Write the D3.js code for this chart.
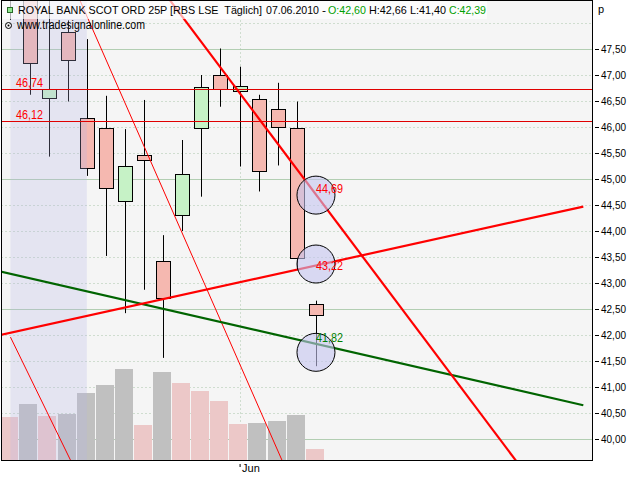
<!DOCTYPE html>
<html>
<head>
<meta charset="utf-8">
<script src="https://cdn.jsdelivr.net/npm/d3@7"></script>
<style>
  html, body { margin: 0; padding: 0; background: #ffffff; }
  svg { display: block; }
  text { font-family: "Liberation Sans", Arial, sans-serif; white-space: pre; }
</style>
</head>
<body>
<svg id="chart" width="640" height="480"></svg>
<script>
// ---------- data ----------
const dates   = ["13.05.2010","14.05.2010","17.05.2010","18.05.2010","19.05.2010","20.05.2010","21.05.2010","24.05.2010","25.05.2010","26.05.2010","27.05.2010","28.05.2010","01.06.2010","02.06.2010","03.06.2010","04.06.2010","07.06.2010"];
const opens   = [48.90, 48.60, 46.57, 47.83, 46.17, 45.98, 44.58, 45.46, 43.42, 44.30, 45.97, 47.00, 46.69, 46.53, 46.34, 45.99, 42.60];
const highs   = [49.10, 48.70, 48.50, 48.05, 47.69, 46.60, 45.96, 46.52, 43.92, 45.75, 47.00, 47.51, 47.16, 46.62, 46.85, 46.49, 42.66];
const lows    = [48.06, 46.62, 45.43, 46.49, 45.06, 43.52, 42.42, 42.87, 41.56, 44.00, 44.66, 46.39, 45.24, 44.76, 45.26, 43.29, 41.40];
const closes  = [48.50, 47.24, 46.74, 47.30, 45.21, 44.82, 45.25, 45.36, 42.71, 45.09, 46.76, 46.73, 46.78, 45.15, 45.99, 43.49, 42.39];
const volumes = [215, 280, 220, 230, 335, 375, 455, 175, 440, 385, 345, 295, 180, 185, 195, 225, 55]; // millions

const priceTicks = [40.0, 40.5, 41.0, 41.5, 42.0, 42.5, 43.0, 43.5, 44.0, 44.5, 45.0, 45.5, 46.0, 46.5, 47.0, 47.5, 48.0];
const majorTicks = [40.0, 42.5, 45.0, 47.5];
const monthTicks = [12];
const monthLabels = ["Jun"];

const levelValues = [46.74, 46.12];
const levelLabels = ["46,74", "46,12"];

// trend lines as [slot, price] pairs
const trendThickRed = [[8, 48.61], [26.5, 39.57]];
const trendRedUp    = [[-1, 41.96], [30, 44.47]];
const trendGreen    = [[-1, 43.26], [30, 40.65]];
const trendThinUp   = [[3, 48.97], [15, 38.94]];
const trendThinLow  = [[0, 41.96], [4, 38.95]];

const markerSlot   = 16;
const markerValues = [44.69, 43.365, 41.667];
const markerLabels = ["44,69", "43,22", "41,82"];
const markerLabelValues = [44.69, 43.22, 41.82];

const shadeSlots = [0, 4];

const titleTexts  = ["ROYAL BANK SCOT ORD 25P [RBS LSE  Täglich]", "07.06.2010", "-", "O:42,60", "H:42,66 L:41,40", "C:42,39"];
const titleColors = ["#000000", "#000000", "#000000", "#00a000", "#000000", "#00a000"];
const subtitle = "www.tradesignalonline.com";

// ---------- layout ----------
const titleX   = [18, 266, 322, 328, 369, 449];
const titleLen = [244, 53, 4, 38, 77, 37];

// ---------- scales ----------
const svg = d3.select("#chart");
const L = 1.5, R = 592.5, T = 0.5, B = 460.5;
const x = d3.scaleLinear().domain([0, 30]).range([10.45, 583.3]);
const y = d3.scaleLinear().domain([40, 47.5]).range([439, 49]);
const vol = d3.scaleLinear().domain([0, 500]).range([460, 360]);
const fmt = v => d3.format(".2f")(v).replace(".", ",");

// background
svg.append("rect").attr("x", 0).attr("y", 0).attr("width", 640).attr("height", 480).attr("fill", "#fff");
svg.append("rect").attr("x", L).attr("y", T).attr("width", R - L).attr("height", B - T).attr("fill", "#f5f5f5");

svg.append("clipPath").attr("id", "plotclip").append("rect")
  .attr("x", L + 0.5).attr("y", T + 0.5).attr("width", R - L - 1).attr("height", B - T - 1);
const g = svg.append("g").attr("clip-path", "url(#plotclip)");

// grid
g.selectAll("line.hgrid").data(priceTicks).enter().append("line")
  .attr("x1", L).attr("x2", R)
  .attr("y1", d => Math.round(y(d)) + 0.5).attr("y2", d => Math.round(y(d)) + 0.5)
  .attr("stroke", d => majorTicks.includes(d) ? "#b2ceb2" : "#a9c4a9")
  .attr("stroke-dasharray", d => majorTicks.includes(d) ? null : "1,3")
  .attr("stroke-width", 1);
g.selectAll("line.vgrid").data(monthTicks).enter().append("line")
  .attr("x1", d => Math.round(x(d)) + 0.5).attr("x2", d => Math.round(x(d)) + 0.5)
  .attr("y1", T).attr("y2", B)
  .attr("stroke", "#a9c4a9").attr("stroke-dasharray", "1,3");

// volume
g.selectAll("rect.vol").data(volumes).enter().append("rect")
  .attr("x", (d, i) => Math.round(x(i) - 1.2 - 9))
  .attr("width", 18)
  .attr("y", d => vol(d))
  .attr("height", d => 460 - vol(d))
  .attr("fill", (d, i) => (i > 0 && d > volumes[i - 1]) ? "#c0c0c0" : "#ecc8c8");

// candles
const idx = d3.range(dates.length);
g.selectAll("line.wick").data(idx).enter().append("line")
  .attr("x1", i => Math.round(x(i)) + 0.5).attr("x2", i => Math.round(x(i)) + 0.5)
  .attr("y1", i => y(highs[i])).attr("y2", i => y(lows[i]))
  .attr("stroke", "#000").attr("stroke-width", 1);
g.selectAll("rect.body").data(idx).enter().append("rect")
  .attr("x", i => Math.round(x(i)) - 7 + 0.5)
  .attr("width", 14)
  .attr("y", i => Math.round(y(Math.max(opens[i], closes[i]))) + 0.5)
  .attr("height", i => Math.max(1, Math.round(Math.abs(y(opens[i]) - y(closes[i])))))
  .attr("fill", i => closes[i] >= opens[i] ? "#c6f2c6" : "#f5b8b0")
  .attr("stroke", "#000").attr("stroke-width", 1);

// shaded region
g.append("rect")
  .attr("x", x(shadeSlots[0])).attr("width", x(shadeSlots[1]) - x(shadeSlots[0]))
  .attr("y", T).attr("height", B - T)
  .attr("fill", "#b4b4e6").attr("opacity", 0.25);

// level lines
g.selectAll("line.level").data(levelValues).enter().append("line")
  .attr("x1", L).attr("x2", R)
  .attr("y1", d => Math.round(y(d)) + 0.5).attr("y2", d => Math.round(y(d)) + 0.5)
  .attr("stroke", "#e00000").attr("stroke-width", 1);
g.selectAll("text.level").data(levelValues).enter().append("text")
  .attr("x", 16).attr("y", d => Math.round(y(d)) - 2)
  .attr("font-size", 12).attr("fill", "#ff0000")
  .attr("textLength", 27).attr("lengthAdjust", "spacingAndGlyphs")
  .text((d, i) => levelLabels[i]);

// trend lines
const line = d3.line().x(d => x(d[0])).y(d => y(d[1]));
function trend(data, color, w) {
  g.append("path").attr("d", line(data)).attr("fill", "none")
    .attr("stroke", color).attr("stroke-width", w);
}
trend(trendThinUp, "#ff0000", 1);
trend(trendThinLow, "#ff0000", 1);
trend(trendGreen, "#006400", 2.2);
trend(trendRedUp, "#ff0000", 2.2);
trend(trendThickRed, "#ff0000", 2.2);

// markers
g.selectAll("circle.marker").data(markerValues).enter().append("circle")
  .attr("cx", x(markerSlot)).attr("cy", d => y(d)).attr("r", 19)
  .attr("fill", "rgba(196,196,240,0.6)").attr("stroke", "#000").attr("stroke-width", 1);
g.selectAll("text.marker").data(markerLabelValues).enter().append("text")
  .attr("x", x(markerSlot)).attr("y", d => y(d) - 2)
  .attr("font-size", 12)
  .attr("fill", (d, i) => i === 2 ? "#008000" : "#ff0000")
  .attr("textLength", 27).attr("lengthAdjust", "spacingAndGlyphs")
  .text((d, i) => markerLabels[i]);

// title area
svg.append("rect").attr("x", 2).attr("y", 1).attr("width", 485).attr("height", 18)
  .attr("fill", "#ffffff").attr("opacity", 0.65);
svg.append("rect").attr("x", 7.5).attr("y", 7.5).attr("width", 5).attr("height", 5)
  .attr("fill", "#90e890").attr("stroke", "#2a6a2a").attr("stroke-width", 1);
svg.selectAll("text.title").data(titleTexts).enter().append("text")
  .attr("class", "title")
  .attr("x", (d, i) => titleX[i]).attr("y", 14).attr("font-size", 11)
  .attr("fill", (d, i) => titleColors[i])
  .attr("textLength", (d, i) => titleLen[i]).attr("lengthAdjust", "spacingAndGlyphs")
  .text(d => d);
svg.append("text").attr("x", 17).attr("y", 29).attr("font-size", 12).attr("fill", "#000")
  .attr("textLength", 128).attr("lengthAdjust", "spacingAndGlyphs").text(subtitle);
// small icon
svg.append("circle").attr("cx", 8.5).attr("cy", 25.5).attr("r", 3).attr("fill", "none").attr("stroke", "#000").attr("stroke-width", 1);
svg.append("circle").attr("cx", 8.5).attr("cy", 25.5).attr("r", 1).attr("fill", "#000");

// frame
svg.append("rect").attr("x", L).attr("y", T).attr("width", R - L).attr("height", B - T)
  .attr("fill", "none").attr("stroke", "#000").attr("stroke-width", 1);

// right axis
const yAxis = d3.axisRight(y).tickValues(priceTicks.filter(v => v <= 47.5)).tickSize(4).tickPadding(2).tickFormat(fmt);
const ay = svg.append("g").attr("transform", "translate(595,0)").call(yAxis);
ay.select(".domain").remove();
ay.selectAll(".tick line").attr("stroke", "#000");
ay.selectAll(".tick text").attr("font-family", "Liberation Sans, Arial, sans-serif")
  .attr("font-size", 11).attr("fill", "#000")
  .attr("textLength", 25).attr("lengthAdjust", "spacingAndGlyphs");

// bottom axis (month)
const xAxis = d3.axisBottom(x).tickValues(monthTicks).tickSize(3).tickPadding(2)
  .tickFormat((d, i) => monthLabels[i]);
const ax = svg.append("g").attr("transform", "translate(0,464)").call(xAxis);
ax.select(".domain").remove();
ax.selectAll(".tick line").attr("stroke", "#000");
ax.selectAll(".tick text").attr("font-family", "Liberation Sans, Arial, sans-serif")
  .attr("font-size", 11).attr("fill", "#000")
  .attr("text-anchor", "start").attr("x", 2).attr("dy", "0.3em");

// unit label
svg.append("text").attr("x", 598).attr("y", 13).attr("font-size", 11).attr("fill", "#000").text("p");
</script>
</body>
</html>
